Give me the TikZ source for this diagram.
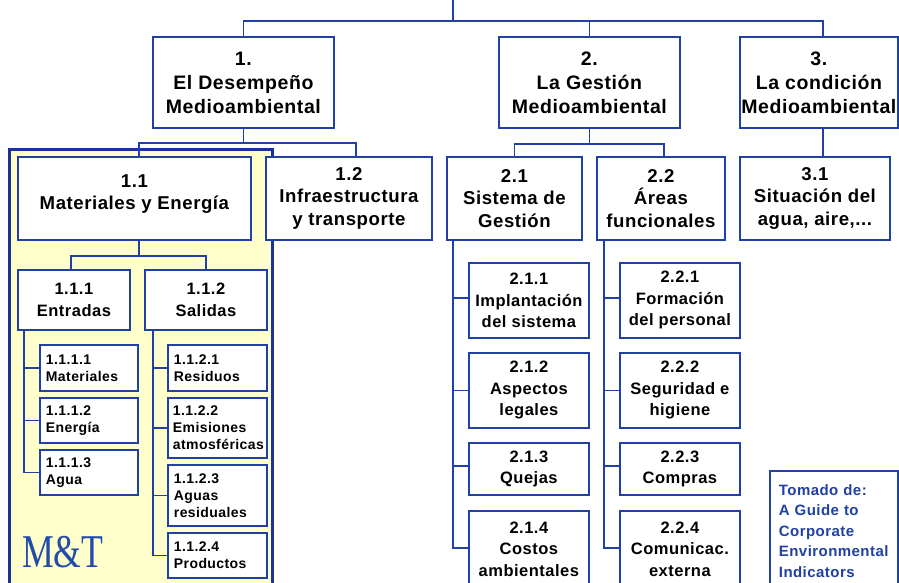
\documentclass[tikz,border=0pt]{standalone}
\usepackage{fontspec}
\usepackage{graphicx}
\setmainfont{Liberation Sans}[LetterSpace=3]
\newfontfamily\mtfont{Liberation Serif}
\definecolor{lineblue}{RGB}{32,64,165}
\definecolor{panelblue}{RGB}{25,50,150}
\definecolor{mtblue}{RGB}{35,75,170}
\definecolor{paleyellow}{RGB}{255,255,204}
\tikzset{
  box/.style={draw=lineblue, line width=1.8pt, fill=white, inner sep=0pt,
    align=center, anchor=north west, text=black},
  lvla/.style={box, font=\bfseries\fontsize{19.5}{24}\selectfont},
  lvlb/.style={box, font=\bfseries\fontsize{18.6}{22.5}\selectfont},
  lvlc/.style={box, font=\bfseries\fontsize{16.5}{21.5}\selectfont},
  leaf/.style={box, align=left, inner xsep=6pt, text width=86pt,
    font=\bfseries\fontsize{14}{17.2}\selectfont},
  note/.style={box, align=left, inner xsep=9pt, text width=110pt, text=lineblue,
    font=\bfseries\fontsize{15}{20.5}\selectfont},
  conn/.style={draw=lineblue, line width=1.7pt},
  panel/.style={draw=panelblue, line width=3.2pt, fill=paleyellow},
}
\begin{document}
\begin{tikzpicture}[x=1pt,y=-1pt]
\useasboundingbox (0,0) rectangle (899,583);
% panel
\draw[panel] (9.5,149.5) rectangle (272.5,600);
% level 1
\node[lvla, minimum width=181pt, minimum height=91pt] (b1) at (152,36) {1.\\El Desempeño\\Medioambiental};
\node[lvla, minimum width=181pt, minimum height=91pt] (b2) at (498,36) {2.\\La Gestión\\Medioambiental};
\node[lvla, minimum width=158pt, minimum height=91pt] (b3) at (739,36) {3.\\La condición\\Medioambiental};
% level 2
\node[lvlb, minimum width=233pt, minimum height=83pt] (b11) at (17,156) {1.1\\Materiales y Energía\\[-10pt]\mbox{}};
\node[lvlb, minimum width=166pt, minimum height=83pt] (b12) at (265,156) {1.2\\Infraestructura\\y transporte};
\node[lvlb, minimum width=135pt, minimum height=83pt] (b21) at (446,156) {2.1\\Sistema de\\Gestión};
\node[lvlb, minimum width=128pt, minimum height=83pt] (b22) at (596,156) {2.2\\Áreas\\funcionales};
\node[lvlb, minimum width=150pt, minimum height=83pt] (b31) at (739,156) {3.1\\Situación del\\agua, aire,...};
% level 3 (left)
\node[lvlc, minimum width=112pt, minimum height=60pt] (b111) at (17,269) {1.1.1\\Entradas};
\node[lvlc, minimum width=122pt, minimum height=60pt] (b112) at (144,269) {1.1.2\\Salidas};
% leaves
\node[leaf, minimum height=46pt] (b1111) at (39,344) {1.1.1.1\\Materiales};
\node[leaf, minimum height=45pt] (b1112) at (39,397) {1.1.1.2\\Energía};
\node[leaf, minimum height=45pt] (b1113) at (39,449) {1.1.1.3\\Agua};
\node[leaf, minimum height=46pt, text width=87pt] (b1121) at (167,344) {1.1.2.1\\Residuos};
\node[leaf, minimum height=60pt, text width=89pt, inner xsep=5pt] (b1122) at (167,397) {1.1.2.2\\Emisiones\\atmosféricas};
\node[leaf, minimum height=61pt, text width=87pt] (b1123) at (167,464) {1.1.2.3\\Aguas\\residuales};
\node[leaf, minimum height=45pt, text width=87pt] (b1124) at (167,532) {1.1.2.4\\Productos};
% level 3 (right)
\node[lvlc, minimum width=120pt, minimum height=75pt] (b211) at (468,262) {2.1.1\\Implantación\\del sistema};
\node[lvlc, minimum width=120pt, minimum height=75pt] (b212) at (468,352) {2.1.2\\Aspectos\\legales};
\node[lvlc, minimum width=120pt, minimum height=52pt] (b213) at (468,442) {2.1.3\\Quejas};
\node[lvlc, minimum width=120pt, minimum height=76pt] (b214) at (468,510) {2.1.4\\Costos\\ambientales};
\node[lvlc, minimum width=120pt, minimum height=75pt] (b221) at (619,262) {2.2.1\\Formación\\del personal};
\node[lvlc, minimum width=120pt, minimum height=75pt] (b222) at (619,352) {2.2.2\\Seguridad e\\higiene};
\node[lvlc, minimum width=120pt, minimum height=52pt] (b223) at (619,442) {2.2.3\\Compras};
\node[lvlc, minimum width=120pt, minimum height=76pt] (b224) at (619,510) {2.2.4\\Comunicac.\\externa};
% note
\node[note, minimum height=120pt] (src) at (769,470) {Tomado de:\\A Guide to\\Corporate\\Environmental\\Indicators};
% M&T
\node[anchor=base west, inner sep=0pt, text=mtblue] (mt) at (22,567) {\scalebox{0.76}[1]{\mtfont\fontsize{47}{47}\selectfont M\&T}};
% connectors top
\coordinate (top) at (453,0);
\coordinate (hub) at (453,21);
\draw[conn] (top) -- (hub);
\draw[conn] (b1.north) |- (hub) -| ([xshift=4pt]b3.north);
\draw[conn] (hub) -| (b2.north);
% under 1
\draw[conn] (b1.south) -- ++(0,14) coordinate (j1);
\draw[conn] ([xshift=4.5pt]b11.north) |- (j1) -| ([xshift=7pt]b12.north);
% under 2
\draw[conn] (b2.south) -- ++(0,15) coordinate (j2);
\draw[conn] (b21.north) |- (j2) -| ([xshift=3pt]b22.north);
% under 3
\draw[conn] ([xshift=4pt]b3.south) -- ([xshift=4pt]b3.south |- b31.north);
% under 1.1
\draw[conn] ([xshift=4.5pt]b11.south) -- ++(0,15) coordinate (j11);
\draw[conn] ([xshift=-3pt]b111.north) |- (j11) -| (b112.north);
% trunk 1.1.1
\coordinate (t111) at ([xshift=7pt]b111.south west);
\draw[conn] (t111) |- (b1113.west);
\draw[conn] (b1111.west) -- (b1111.west -| t111);
\draw[conn] (b1112.west) -- (b1112.west -| t111);
% trunk 1.1.2
\coordinate (t112) at ([xshift=9pt]b112.south west);
\draw[conn] (t112) |- (b1124.west);
\draw[conn] (b1121.west) -- (b1121.west -| t112);
\draw[conn] (b1122.west) -- (b1122.west -| t112);
\draw[conn] (b1123.west) -- (b1123.west -| t112);
% trunk 2.1
\coordinate (t21) at ([xshift=7pt]b21.south west);
\draw[conn] (t21) |- ([yshift=1pt]b214.west);
\draw[conn] ([yshift=2.5pt]b211.west) -- ([yshift=2.5pt]b211.west -| t21);
\draw[conn] (b212.west) -- (b212.west -| t21);
\draw[conn] ([yshift=3pt]b213.west) -- ([yshift=3pt]b213.west -| t21);
% trunk 2.2
\coordinate (t22) at ([xshift=8pt]b22.south west);
\draw[conn] (t22) |- ([yshift=1pt]b224.west);
\draw[conn] ([yshift=2.5pt]b221.west) -- ([yshift=2.5pt]b221.west -| t22);
\draw[conn] (b222.west) -- (b222.west -| t22);
\draw[conn] ([yshift=3pt]b223.west) -- ([yshift=3pt]b223.west -| t22);
\end{tikzpicture}
\end{document}
